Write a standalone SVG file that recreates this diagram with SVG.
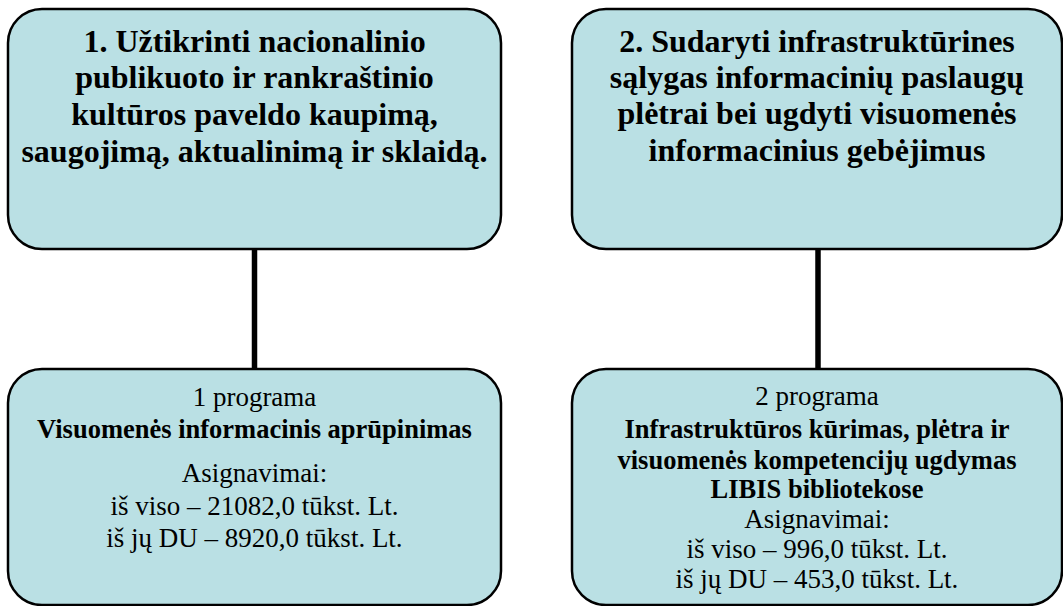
<svg xmlns="http://www.w3.org/2000/svg" width="1063" height="606" viewBox="0 0 1063 606">
<style>
.box{fill:#BAE0E4;stroke:#000;stroke-width:2.5}
.conn{stroke:#000;stroke-width:5.5;fill:none}
.t{font-family:"Liberation Serif","Times New Roman",serif;text-anchor:middle;fill:#000}
.h{font-size:32px;font-weight:bold}
.n{font-size:27px}
.b{font-size:26.5px;font-weight:bold}
</style>
<rect width="1063" height="606" fill="#fff"/>
<g id="connectors">
<line class="conn" x1="254.5" y1="249" x2="254.5" y2="369"/>
<line class="conn" x1="818" y1="249" x2="818" y2="369"/>
</g>
<g id="goal1">
<rect class="box" x="8" y="9" width="493" height="240" rx="34" ry="34"/>
<text class="t h"><tspan x="254.5" y="52">1. Užtikrinti nacionalinio</tspan><tspan x="254.5" y="88">publikuoto ir rankraštinio</tspan><tspan x="254.5" y="125">kultūros paveldo kaupimą,</tspan><tspan x="254.5" y="162">saugojimą, aktualinimą ir sklaidą.</tspan></text>
</g>
<g id="goal2">
<rect class="box" x="572" y="9" width="490" height="240" rx="34" ry="34"/>
<text class="t h"><tspan x="817" y="52">2. Sudaryti infrastruktūrines</tspan><tspan x="817" y="88">sąlygas informacinių paslaugų</tspan><tspan x="817" y="124">plėtrai bei ugdyti visuomenės</tspan><tspan x="817" y="161">informacinius gebėjimus</tspan></text>
</g>
<g id="program1">
<rect class="box" x="8" y="369" width="493" height="236" rx="34" ry="34"/>
<text class="t n" x="254.5" y="406">1 programa</text>
<text class="t b" x="254.5" y="438">Visuomenės informacinis aprūpinimas</text>
<text class="t n"><tspan x="254.5" y="482">Asignavimai:</tspan><tspan x="254.5" y="515">iš viso – 21082,0 tūkst. Lt.</tspan><tspan x="254.5" y="547">iš jų DU – 8920,0 tūkst. Lt.</tspan></text>
</g>
<g id="program2">
<rect class="box" x="572" y="369" width="490" height="236" rx="34" ry="34"/>
<text class="t n" x="817" y="405">2 programa</text>
<text class="t b"><tspan x="817" y="438">Infrastruktūros kūrimas, plėtra ir</tspan><tspan x="817" y="469">visuomenės kompetencijų ugdymas</tspan><tspan x="817" y="498">LIBIS bibliotekose</tspan></text>
<text class="t n"><tspan x="817" y="528">Asignavimai:</tspan><tspan x="817" y="558">iš viso – 996,0 tūkst. Lt.</tspan><tspan x="817" y="588">iš jų DU – 453,0 tūkst. Lt.</tspan></text>
</g>
</svg>
